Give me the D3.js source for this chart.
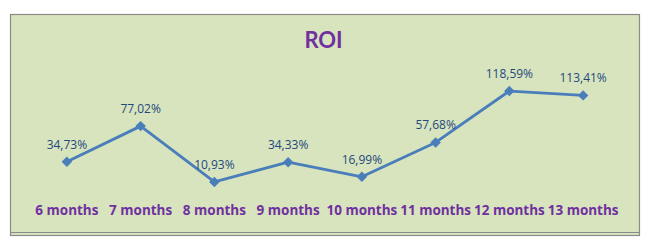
<!DOCTYPE html>
<html><head><meta charset="utf-8">
<script src="https://cdn.jsdelivr.net/npm/d3@7"></script>
<style>body{margin:0;background:#fff}svg{display:block}</style>
</head><body>
<script>
const categories = ["6 months","7 months","8 months","9 months","10 months","11 months","12 months","13 months"];
const roi = [34.73, 77.02, 10.93, 34.33, 16.99, 57.68, 118.59, 113.41];
const title = "ROI";

const W = 653, H = 250;
const svg = d3.select("body").append("svg").attr("width", W).attr("height", H);

// frame
svg.append("rect").attr("x", 10.5).attr("y", 14.5).attr("width", 629).attr("height", 221)
  .attr("fill", "#D7E4BD").attr("stroke", "#8a8a8a").attr("stroke-width", 1.2);
svg.append("line").attr("x1", 10.5).attr("x2", 639.5).attr("y1", 232.5).attr("y2", 232.5)
  .attr("stroke", "#8a8a8a").attr("stroke-width", 1);

const x = d3.scalePoint().domain(categories).range([30, 620]).padding(0.5);
const y = d3.scaleLinear().domain([0, 118.59]).range([191.2, 91]);

svg.append("text").attr("x", 323.5).attr("y", 48).attr("text-anchor", "middle")
  .attr("font-family", "Lato, 'Open Sans', sans-serif").attr("font-weight", "bold")
  .attr("font-size", 22).attr("fill", "#7030A0").text(title);

const data = categories.map((c, i) => ({c, v: roi[i]}));

svg.append("path").datum(data)
  .attr("fill", "none").attr("stroke", "#4A7EBB").attr("stroke-width", 2.8)
  .attr("stroke-linejoin", "round")
  .attr("d", d3.line().x(d => x(d.c)).y(d => y(d.v)));

svg.selectAll(".mk").data(data).enter().append("path")
  .attr("transform", d => `translate(${x(d.c)},${y(d.v)})`)
  .attr("d", d3.symbol().type(d3.symbolDiamond2).size(70))
  .attr("fill", "#4A7EBB");

const fmt = v => v.toFixed(2).replace(".", ",") + "%";
svg.selectAll(".lbl").data(data).enter().append("text")
  .attr("x", d => x(d.c)).attr("y", d => y(d.v) - 13)
  .attr("text-anchor", "middle").attr("font-family", "'Open Sans', sans-serif")
  .attr("font-size", 12).attr("fill", "#1F497D").text(d => fmt(d.v));

svg.selectAll(".cat").data(categories).enter().append("text")
  .attr("x", d => x(d)).attr("y", 215)
  .attr("text-anchor", "middle").attr("font-family", "'Open Sans', sans-serif")
  .attr("font-weight", "bold").attr("font-size", 13.5).attr("fill", "#7030A0").text(d => d);
</script>
</body></html>
